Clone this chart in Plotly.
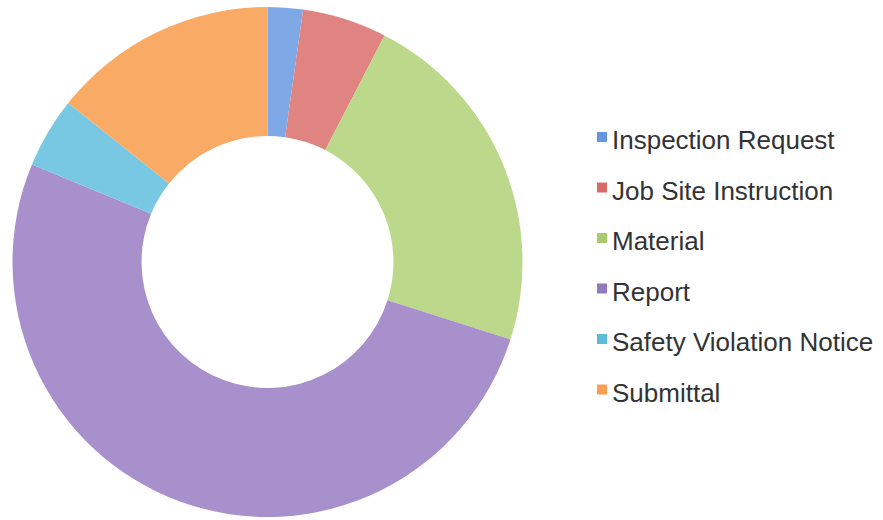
import plotly.graph_objects as go

categories = ["Inspection Request", "Job Site Instruction", "Material", "Report",
              "Safety Violation Notice", "Submittal"]
values = [5, 12, 50, 115, 10, 32]
slice_colors = ["#7ea8e6", "#e08482", "#bcd88a", "#a890cc", "#78c8e3", "#f9ab66"]
legend_colors = ["#6495de", "#d86a68", "#a8c96c", "#9179bd", "#5bbbd9", "#f89d52"]

W, H = 883, 520
fig = go.Figure()
fig.add_trace(go.Pie(
    labels=categories, values=values, sort=False, direction="clockwise", rotation=0,
    hole=0.494, textinfo="none", hoverinfo="label+value+percent",
    marker=dict(colors=slice_colors, line=dict(width=0)),
    domain=dict(x=[12.5 / W, 522.5 / W], y=[3 / H, 513 / H]),
    showlegend=False,
))

# manual legend
row0_y, row_gap = 140, 50.5
for i, (name, col) in enumerate(zip(categories, legend_colors)):
    yc = row0_y + i * row_gap
    fig.add_shape(type="rect", xref="paper", yref="paper",
                  x0=597 / W, x1=607 / W, y0=1 - (yc + 2) / H, y1=1 - (yc - 8) / H,
                  line=dict(width=0), fillcolor=col)
    fig.add_annotation(text=name, xref="paper", yref="paper", x=610 / W, y=1 - yc / H,
                       xanchor="left", yanchor="middle", showarrow=False,
                       font=dict(family="Liberation Sans, Arial", size=26, color="#333333"))

fig.update_layout(width=W, height=H, margin=dict(l=0, r=0, t=0, b=0),
                  paper_bgcolor="white", plot_bgcolor="white")
fig.write_html("out.html")
